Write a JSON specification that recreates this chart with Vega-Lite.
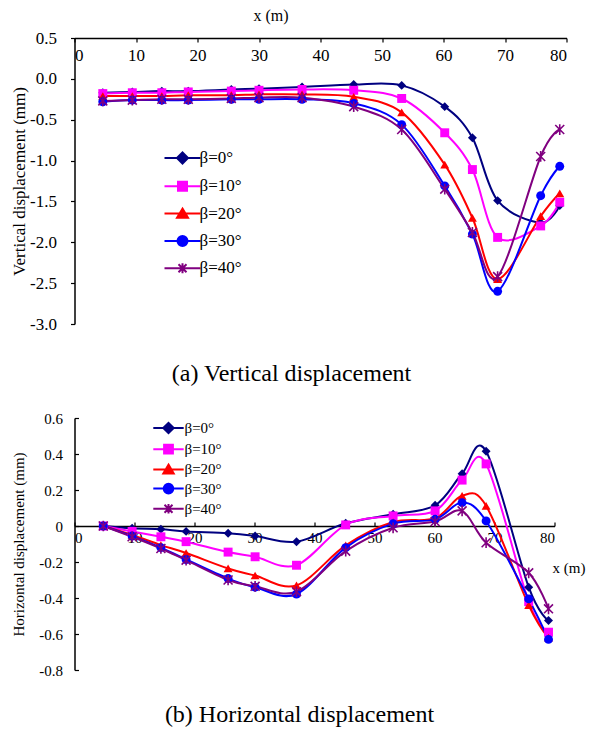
{
  "$schema": "https://vega.github.io/schema/vega-lite/v6.json",
  "padding": {"left": 10.5, "top": 7, "right": 0, "bottom": 5},
  "config": {
    "font": "Liberation Serif",
    "view": {"stroke": null},
    "axis": {"grid": false, "domainColor": "black", "tickColor": "black", "labelColor": "black", "titleColor": "black", "labelFont": "Liberation Serif", "titleFont": "Liberation Serif", "titleFontWeight": "normal", "domainWidth": 1.5, "tickWidth": 1.2},
    "title": {"font": "Liberation Serif", "fontWeight": "normal", "color": "black"},
    "legend": {"labelFont": "Liberation Serif", "labelColor": "black", "padding": 0}
  },
  "datasets": {
    "vert": [
      {"x": 4.6, "beta": "β=0°", "v": -0.17}, {"x": 9.4, "beta": "β=0°", "v": -0.16}, {"x": 14.2, "beta": "β=0°", "v": -0.15}, {"x": 18.5, "beta": "β=0°", "v": -0.15}, {"x": 25.5, "beta": "β=0°", "v": -0.13}, {"x": 30, "beta": "β=0°", "v": -0.12}, {"x": 37, "beta": "β=0°", "v": -0.10}, {"x": 45.4, "beta": "β=0°", "v": -0.07}, {"x": 53.2, "beta": "β=0°", "v": -0.08}, {"x": 60.2, "beta": "β=0°", "v": -0.34}, {"x": 64.7, "beta": "β=0°", "v": -0.72}, {"x": 68.8, "beta": "β=0°", "v": -1.49}, {"x": 75.8, "beta": "β=0°", "v": -1.76}, {"x": 78.9, "beta": "β=0°", "v": -1.55},
      {"x": 4.6, "beta": "β=10°", "v": -0.18}, {"x": 9.4, "beta": "β=10°", "v": -0.17}, {"x": 14.2, "beta": "β=10°", "v": -0.17}, {"x": 18.5, "beta": "β=10°", "v": -0.16}, {"x": 25.5, "beta": "β=10°", "v": -0.15}, {"x": 30, "beta": "β=10°", "v": -0.14}, {"x": 37, "beta": "β=10°", "v": -0.13}, {"x": 45.4, "beta": "β=10°", "v": -0.14}, {"x": 53.2, "beta": "β=10°", "v": -0.24}, {"x": 60.2, "beta": "β=10°", "v": -0.66}, {"x": 64.7, "beta": "β=10°", "v": -1.11}, {"x": 68.8, "beta": "β=10°", "v": -1.94}, {"x": 75.8, "beta": "β=10°", "v": -1.80}, {"x": 78.9, "beta": "β=10°", "v": -1.51},
      {"x": 4.6, "beta": "β=20°", "v": -0.21}, {"x": 9.4, "beta": "β=20°", "v": -0.21}, {"x": 14.2, "beta": "β=20°", "v": -0.21}, {"x": 18.5, "beta": "β=20°", "v": -0.20}, {"x": 25.5, "beta": "β=20°", "v": -0.20}, {"x": 30, "beta": "β=20°", "v": -0.19}, {"x": 37, "beta": "β=20°", "v": -0.19}, {"x": 45.4, "beta": "β=20°", "v": -0.22}, {"x": 53.2, "beta": "β=20°", "v": -0.41}, {"x": 60.2, "beta": "β=20°", "v": -1.05}, {"x": 64.7, "beta": "β=20°", "v": -1.70}, {"x": 68.8, "beta": "β=20°", "v": -2.45}, {"x": 75.8, "beta": "β=20°", "v": -1.68}, {"x": 78.9, "beta": "β=20°", "v": -1.40},
      {"x": 4.6, "beta": "β=30°", "v": -0.28}, {"x": 9.4, "beta": "β=30°", "v": -0.26}, {"x": 14.2, "beta": "β=30°", "v": -0.26}, {"x": 18.5, "beta": "β=30°", "v": -0.26}, {"x": 25.5, "beta": "β=30°", "v": -0.25}, {"x": 30, "beta": "β=30°", "v": -0.25}, {"x": 37, "beta": "β=30°", "v": -0.25}, {"x": 45.4, "beta": "β=30°", "v": -0.30}, {"x": 53.2, "beta": "β=30°", "v": -0.56}, {"x": 60.2, "beta": "β=30°", "v": -1.31}, {"x": 64.7, "beta": "β=30°", "v": -1.90}, {"x": 68.8, "beta": "β=30°", "v": -2.60}, {"x": 75.8, "beta": "β=30°", "v": -1.43}, {"x": 78.9, "beta": "β=30°", "v": -1.07},
      {"x": 4.6, "beta": "β=40°", "v": -0.27}, {"x": 9.4, "beta": "β=40°", "v": -0.26}, {"x": 14.2, "beta": "β=40°", "v": -0.25}, {"x": 18.5, "beta": "β=40°", "v": -0.25}, {"x": 25.5, "beta": "β=40°", "v": -0.24}, {"x": 30, "beta": "β=40°", "v": -0.23}, {"x": 37, "beta": "β=40°", "v": -0.23}, {"x": 45.4, "beta": "β=40°", "v": -0.34}, {"x": 53.2, "beta": "β=40°", "v": -0.62}, {"x": 60.2, "beta": "β=40°", "v": -1.35}, {"x": 64.7, "beta": "β=40°", "v": -1.88}, {"x": 68.8, "beta": "β=40°", "v": -2.42}, {"x": 75.8, "beta": "β=40°", "v": -0.95}, {"x": 78.9, "beta": "β=40°", "v": -0.62}
    ],
    "horiz": [
      {"x": 4.8, "beta": "β=0°", "v": 0}, {"x": 9.6, "beta": "β=0°", "v": -0.013}, {"x": 14.4, "beta": "β=0°", "v": -0.018}, {"x": 18.6, "beta": "β=0°", "v": -0.03}, {"x": 25.6, "beta": "β=0°", "v": -0.04}, {"x": 30.1, "beta": "β=0°", "v": -0.055}, {"x": 37, "beta": "β=0°", "v": -0.087}, {"x": 45.2, "beta": "β=0°", "v": 0.015}, {"x": 53.1, "beta": "β=0°", "v": 0.065}, {"x": 60.1, "beta": "β=0°", "v": 0.115}, {"x": 64.6, "beta": "β=0°", "v": 0.29}, {"x": 68.6, "beta": "β=0°", "v": 0.415}, {"x": 75.7, "beta": "β=0°", "v": -0.34}, {"x": 79, "beta": "β=0°", "v": -0.525},
      {"x": 4.8, "beta": "β=10°", "v": 0}, {"x": 9.6, "beta": "β=10°", "v": -0.03}, {"x": 14.4, "beta": "β=10°", "v": -0.06}, {"x": 18.6, "beta": "β=10°", "v": -0.087}, {"x": 25.6, "beta": "β=10°", "v": -0.145}, {"x": 30.1, "beta": "β=10°", "v": -0.171}, {"x": 37, "beta": "β=10°", "v": -0.218}, {"x": 45.2, "beta": "β=10°", "v": 0.006}, {"x": 53.1, "beta": "β=10°", "v": 0.056}, {"x": 60.1, "beta": "β=10°", "v": 0.084}, {"x": 64.6, "beta": "β=10°", "v": 0.255}, {"x": 68.6, "beta": "β=10°", "v": 0.345}, {"x": 75.7, "beta": "β=10°", "v": -0.42}, {"x": 79, "beta": "β=10°", "v": -0.59},
      {"x": 4.8, "beta": "β=20°", "v": 0}, {"x": 9.6, "beta": "β=20°", "v": -0.05}, {"x": 14.4, "beta": "β=20°", "v": -0.106}, {"x": 18.6, "beta": "β=20°", "v": -0.15}, {"x": 25.6, "beta": "β=20°", "v": -0.236}, {"x": 30.1, "beta": "β=20°", "v": -0.275}, {"x": 37, "beta": "β=20°", "v": -0.33}, {"x": 45.2, "beta": "β=20°", "v": -0.108}, {"x": 53.1, "beta": "β=20°", "v": 0.022}, {"x": 60.1, "beta": "β=20°", "v": 0.043}, {"x": 64.6, "beta": "β=20°", "v": 0.168}, {"x": 68.6, "beta": "β=20°", "v": 0.112}, {"x": 75.7, "beta": "β=20°", "v": -0.44}, {"x": 79, "beta": "β=20°", "v": -0.62},
      {"x": 4.8, "beta": "β=30°", "v": 0}, {"x": 9.6, "beta": "β=30°", "v": -0.056}, {"x": 14.4, "beta": "β=30°", "v": -0.12}, {"x": 18.6, "beta": "β=30°", "v": -0.186}, {"x": 25.6, "beta": "β=30°", "v": -0.292}, {"x": 30.1, "beta": "β=30°", "v": -0.34}, {"x": 37, "beta": "β=30°", "v": -0.378}, {"x": 45.2, "beta": "β=30°", "v": -0.12}, {"x": 53.1, "beta": "β=30°", "v": 0.013}, {"x": 60.1, "beta": "β=30°", "v": 0.037}, {"x": 64.6, "beta": "β=30°", "v": 0.13}, {"x": 68.6, "beta": "β=30°", "v": 0.028}, {"x": 75.7, "beta": "β=30°", "v": -0.405}, {"x": 79, "beta": "β=30°", "v": -0.63},
      {"x": 4.8, "beta": "β=40°", "v": 0}, {"x": 9.6, "beta": "β=40°", "v": -0.06}, {"x": 14.4, "beta": "β=40°", "v": -0.125}, {"x": 18.6, "beta": "β=40°", "v": -0.19}, {"x": 25.6, "beta": "β=40°", "v": -0.30}, {"x": 30.1, "beta": "β=40°", "v": -0.335}, {"x": 37, "beta": "β=40°", "v": -0.365}, {"x": 45.2, "beta": "β=40°", "v": -0.14}, {"x": 53.1, "beta": "β=40°", "v": -0.01}, {"x": 60.1, "beta": "β=40°", "v": 0.025}, {"x": 64.6, "beta": "β=40°", "v": 0.084}, {"x": 68.6, "beta": "β=40°", "v": -0.093}, {"x": 75.7, "beta": "β=40°", "v": -0.26}, {"x": 79, "beta": "β=40°", "v": -0.46}
    ]
  },
  "resolve": {
    "scale": {"color": "independent", "stroke": "independent", "fill": "independent", "shape": "independent"},
    "legend": {"color": "independent", "stroke": "independent", "fill": "independent", "shape": "independent"}
  },
  "spacing": 25,
  "vconcat": [
    {
      "width": 492,
      "height": 286,
      "data": {"name": "vert"},
      "title": {"text": "(a) Vertical displacement", "orient": "bottom", "frame": "group", "anchor": "middle", "baseline": "middle", "fontSize": 24, "font": "Liberation Serif", "offset": 42, "dx": -29},
      "resolve": {
        "scale": {"color": "independent", "stroke": "independent", "fill": "independent", "shape": "independent"},
        "legend": {"color": "independent", "stroke": "independent", "fill": "independent", "shape": "independent"}
      },
      "encoding": {
        "x": {"field": "x", "type": "quantitative", "scale": {"domain": [0, 80], "nice": false},
          "axis": {"orient": "bottom", "offset": -286, "values": [0, 10, 20, 30, 40, 50, 60, 70, 80], "title": "x (m)", "titleX": 196, "titleY": -23, "titleBaseline": "middle", "titleAlign": "center", "titleFontSize": 16, "labelFontSize": 17, "labelFont": "Liberation Serif", "titleFont": "Liberation Serif", "tickSize": 4, "labelPadding": 5}},
        "y": {"field": "v", "type": "quantitative", "scale": {"domain": [-3, 0.5], "nice": false, "zero": false},
          "axis": {"values": [-3, -2.5, -2, -1.5, -1, -0.5, 0, 0.5], "labelExpr": "replace(format(datum.value, '.1f'), '−', '-')", "title": "Vertical displacement (mm)", "titleFontSize": 17, "labelFontSize": 17, "labelFont": "Liberation Serif", "titleFont": "Liberation Serif", "tickSize": 4, "labelPadding": 14, "titlePadding": 1}}
      },
      "layer": [
        {"mark": {"type": "line", "interpolate": "cardinal", "strokeWidth": 2},
          "encoding": {
            "color": {"field": "beta", "type": "nominal", "scale": {"domain": ["β=0°", "β=10°", "β=20°", "β=30°", "β=40°", "-"], "range": ["#000080", "#FF00FF", "#FF0000", "#0000FF", "#800080", "#000000"]}, "legend": null}
          }},
        {"mark": {"type": "point", "filled": true, "size": 80, "opacity": 1},
          "encoding": {
            "fill": {"field": "beta", "type": "nominal", "scale": {"domain": ["β=0°", "β=10°", "β=20°", "β=30°", "β=40°", "-"], "range": ["#000080", "#FF00FF", "#FF0000", "#0000FF", "#800080", "#000000"]}, "legend": null},
            "shape": {"field": "beta", "type": "nominal", "scale": {"domain": ["β=0°", "β=10°", "β=20°", "β=30°", "β=40°", "-"], "range": ["diamond", "square", "triangle-up", "circle", "M-1,-1L1,1M-1,1L1,-1M0,-1.2L0,1.2", "circle"]}, "legend": null}
          }},
        {"transform": [{"filter": "datum.beta === 'β=40°'"}],
          "mark": {"type": "point", "filled": false, "size": 80, "opacity": 1, "stroke": "#800080", "strokeWidth": 1.6, "shape": "M-1,-1L1,1M-1,1L1,-1M0,-1.2L0,1.2"}},
        {"transform": [{"filter": "false"}],
          "mark": {"type": "point", "filled": true, "opacity": 1, "strokeWidth": 2},
          "encoding": {
            "fill": {"field": "beta", "type": "nominal", "scale": {"domain": ["β=0°", "β=10°", "β=20°", "β=30°", "β=40°"], "range": ["#000080", "#FF00FF", "#FF0000", "#0000FF", "#800080"]},
              "legend": {"orient": "none", "legendX": 97, "legendY": 109, "direction": "vertical", "title": null, "labelFontSize": 17, "labelFont": "Liberation Serif", "symbolSize": 400, "rowPadding": 7.3, "labelOffset": 6, "symbolStrokeWidth": 2}},
            "stroke": {"field": "beta", "type": "nominal", "scale": {"domain": ["β=0°", "β=10°", "β=20°", "β=30°", "β=40°"], "range": ["#000080", "#FF00FF", "#FF0000", "#0000FF", "#800080"]},
              "legend": {"orient": "none", "legendX": 97, "legendY": 109, "direction": "vertical", "title": null, "labelFontSize": 17, "labelFont": "Liberation Serif", "symbolSize": 400, "rowPadding": 7.3, "labelOffset": 6, "symbolStrokeWidth": 2}},
            "shape": {"field": "beta", "type": "nominal", "scale": {"domain": ["β=0°", "β=10°", "β=20°", "β=30°", "β=40°"], "range": ["M-1.8,0H1.8M-0.55,0L0,-0.55L0.55,0L0,0.55Z", "M-1.8,0H1.8M-0.45,-0.45H0.45V0.45H-0.45Z", "M-1.8,0H1.8M0,-0.5L0.55,0.42L-0.55,0.42Z", "M-1.8,0H1.8M0.5,0A0.5,0.5,0,1,1,-0.5,0A0.5,0.5,0,1,1,0.5,0Z", "M-1.8,0H1.8M-0.4,-0.4L0.4,0.4M-0.4,0.4L0.4,-0.4M0,-0.5V0.5"]},
              "legend": {"orient": "none", "legendX": 97, "legendY": 109, "direction": "vertical", "title": null, "labelFontSize": 17, "labelFont": "Liberation Serif", "symbolSize": 400, "rowPadding": 7.3, "labelOffset": 6, "symbolStrokeWidth": 2}}
          }}
      ]
    },
    {
      "width": 480,
      "height": 252,
      "data": {"name": "horiz"},
      "title": {"text": "(b) Horizontal displacement", "orient": "bottom", "frame": "group", "anchor": "middle", "baseline": "middle", "fontSize": 24, "font": "Liberation Serif", "offset": 37, "dx": -15},
      "resolve": {
        "scale": {"color": "independent", "stroke": "independent", "fill": "independent", "shape": "independent"},
        "legend": {"color": "independent", "stroke": "independent", "fill": "independent", "shape": "independent"}
      },
      "encoding": {
        "x": {"field": "x", "type": "quantitative", "scale": {"domain": [0, 80], "nice": false},
          "axis": {"orient": "bottom", "offset": -144, "values": [0, 10, 20, 30, 40, 50, 60, 70, 80], "title": "x (m)", "titleX": 494, "titleY": 41, "titleBaseline": "middle", "titleAlign": "center", "titleFontSize": 15, "labelFontSize": 15, "labelFont": "Liberation Serif", "titleFont": "Liberation Serif", "tickSize": -4, "labelPadding": 8}},
        "y": {"field": "v", "type": "quantitative", "scale": {"domain": [-0.8, 0.6], "nice": false, "zero": false},
          "axis": {"values": [-0.8, -0.6, -0.4, -0.2, 0, 0.2, 0.4, 0.6], "labelExpr": "replace(format(datum.value, '.1~f'), '−', '-')", "title": "Horizontal displacement (mm)", "titleFontSize": 15, "labelFontSize": 15, "labelFont": "Liberation Serif", "titleFont": "Liberation Serif", "tickSize": -4, "labelPadding": 16, "titlePadding": 12.5}}
      },
      "layer": [
        {"mark": {"type": "line", "interpolate": "cardinal", "strokeWidth": 2},
          "encoding": {
            "color": {"field": "beta", "type": "nominal", "scale": {"domain": ["β=0°", "β=10°", "β=20°", "β=30°", "β=40°", "-"], "range": ["#000080", "#FF00FF", "#FF0000", "#0000FF", "#800080", "#000000"]}, "legend": null}
          }},
        {"mark": {"type": "point", "filled": true, "size": 80, "opacity": 1},
          "encoding": {
            "fill": {"field": "beta", "type": "nominal", "scale": {"domain": ["β=0°", "β=10°", "β=20°", "β=30°", "β=40°", "-"], "range": ["#000080", "#FF00FF", "#FF0000", "#0000FF", "#800080", "#000000"]}, "legend": null},
            "shape": {"field": "beta", "type": "nominal", "scale": {"domain": ["β=0°", "β=10°", "β=20°", "β=30°", "β=40°", "-"], "range": ["diamond", "square", "triangle-up", "circle", "M-1,-1L1,1M-1,1L1,-1M0,-1.2L0,1.2", "circle"]}, "legend": null}
          }},
        {"transform": [{"filter": "datum.beta === 'β=40°'"}],
          "mark": {"type": "point", "filled": false, "size": 80, "opacity": 1, "stroke": "#800080", "strokeWidth": 1.6, "shape": "M-1,-1L1,1M-1,1L1,-1M0,-1.2L0,1.2"}},
        {"transform": [{"filter": "false"}],
          "mark": {"type": "point", "filled": true, "opacity": 1, "strokeWidth": 2},
          "encoding": {
            "fill": {"field": "beta", "type": "nominal", "scale": {"domain": ["β=0°", "β=10°", "β=20°", "β=30°", "β=40°"], "range": ["#000080", "#FF00FF", "#FF0000", "#0000FF", "#800080"]},
              "legend": {"orient": "none", "legendX": 85, "legendY": 1, "direction": "vertical", "title": null, "labelFontSize": 15, "labelFont": "Liberation Serif", "symbolSize": 256, "rowPadding": 2.2, "labelOffset": 7, "symbolStrokeWidth": 2}},
            "stroke": {"field": "beta", "type": "nominal", "scale": {"domain": ["β=0°", "β=10°", "β=20°", "β=30°", "β=40°"], "range": ["#000080", "#FF00FF", "#FF0000", "#0000FF", "#800080"]},
              "legend": {"orient": "none", "legendX": 85, "legendY": 1, "direction": "vertical", "title": null, "labelFontSize": 15, "labelFont": "Liberation Serif", "symbolSize": 256, "rowPadding": 2.2, "labelOffset": 7, "symbolStrokeWidth": 2}},
            "shape": {"field": "beta", "type": "nominal", "scale": {"domain": ["β=0°", "β=10°", "β=20°", "β=30°", "β=40°"], "range": ["M-1.9,0H1.9M-0.65,0L0,-0.65L0.65,0L0,0.65Z", "M-1.9,0H1.9M-0.55,-0.55H0.55V0.55H-0.55Z", "M-1.9,0H1.9M0,-0.6L0.65,0.5L-0.65,0.5Z", "M-1.9,0H1.9M0.6,0A0.6,0.6,0,1,1,-0.6,0A0.6,0.6,0,1,1,0.6,0Z", "M-1.9,0H1.9M-0.5,-0.5L0.5,0.5M-0.5,0.5L0.5,-0.5M0,-0.6V0.6"]},
              "legend": {"orient": "none", "legendX": 85, "legendY": 1, "direction": "vertical", "title": null, "labelFontSize": 15, "labelFont": "Liberation Serif", "symbolSize": 256, "rowPadding": 2.2, "labelOffset": 7, "symbolStrokeWidth": 2}}
          }}
      ]
    }
  ]
}
